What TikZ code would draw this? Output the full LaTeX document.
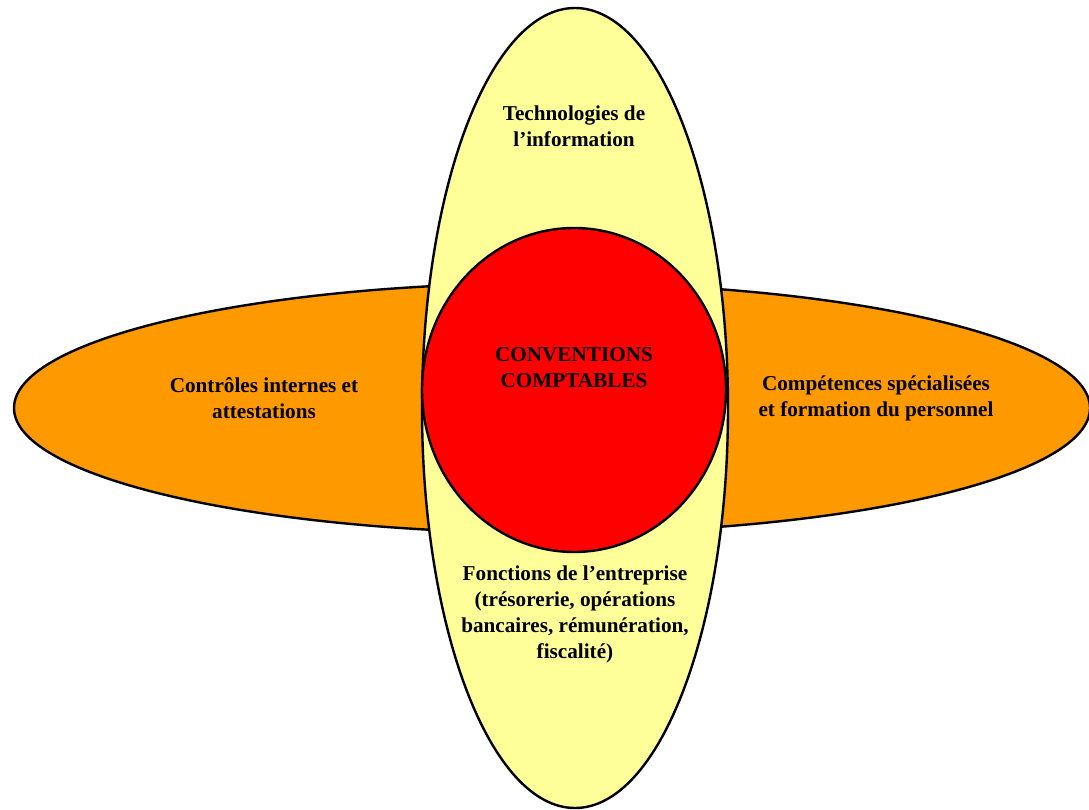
\documentclass[tikz,border=0pt]{standalone}
\usepackage{fontspec}
\setmainfont{Liberation Serif}
\definecolor{orangefill}{HTML}{FF9900}
\definecolor{yellowfill}{HTML}{FFFF99}
\definecolor{redfill}{HTML}{FF0000}
\begin{document}
\begin{tikzpicture}[x=1pt,y=-1pt,
  shapeline/.style={draw=black,line width=2.4pt},
  lbl/.style={align=center,font=\bfseries\fontsize{21.2}{26}\selectfont,inner sep=0pt}]
\useasboundingbox (0,0) rectangle (1089,810);
\fill[white] (0,0) rectangle (1089,810);
\draw[shapeline,fill=orangefill] (552,408) ellipse [x radius=538, y radius=125];
\draw[shapeline,fill=yellowfill] (575,408) ellipse [x radius=153, y radius=400];
\draw[shapeline,fill=redfill] (574,390) ellipse [x radius=152, y radius=162];
\node[lbl] (tech) at (574,126) {Technologies de\\l’information};
\node[lbl] (conv) at (574,368) {CONVENTIONS\\COMPTABLES};
\node[lbl] (ctrl) at (264,398) {Contrôles internes et\\attestations};
\node[lbl] (comp) at (876,398) {Compétences spécialisées\\et formation du personnel};
\node[lbl] (fonc) at (575,614) {Fonctions de l’entreprise\\(trésorerie, opérations\\bancaires, rémunération,\\fiscalité)};
\end{tikzpicture}
\end{document}
